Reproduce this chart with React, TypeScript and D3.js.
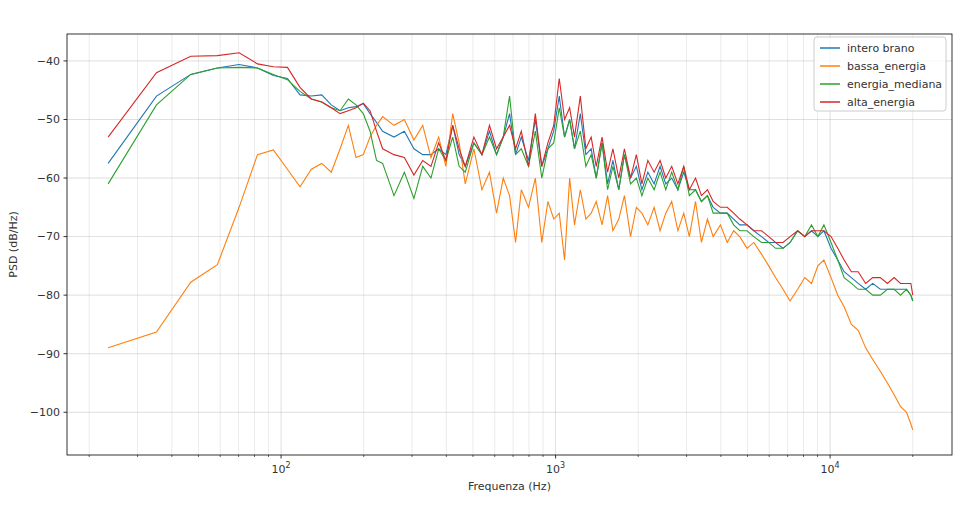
import React, { useRef, useEffect } from 'react';
import * as d3 from 'd3';

// FFT bin index (df = 48000 / 4096 Hz)
const binIndex = [2,3,4,5,6,7,8,9,10,11,12,13,14,15,16,17,18,19,20,22,24,26,28,30,32,34,36,38,40,43,46,49,52,55,58,61,64,68,72,76,80,84,88,92,96,100,105,110,115,120,126,132,138,145,152,160,168,176,185,195,205,215,226,238,250,262,276,290,305,320,340,360,380,400,425,450,480,510,540,575,610,650,690,730,770,810,860,910,960,1020,1080,1150,1220,1300,1380,1460,1540,1620,1680,1707];
const df = 48000 / 4096;

const interoBrano = [-57.5,-46,-42.3,-41.2,-40.6,-41.2,-42.5,-43,-45.8,-46,-45.8,-47.5,-48.5,-48,-47.8,-47.3,-49,-50.5,-52,-53,-52,-55,-56,-56,-55,-56,-51,-56,-58,-54,-56,-52,-56,-53,-49,-56,-53,-57,-50,-58,-55,-52,-46,-53,-50,-55,-49,-56,-55,-60,-54,-61,-57,-62,-56,-60,-58,-62,-59,-61,-58,-61,-60,-62,-59,-62,-62,-64,-63,-65,-66,-66,-67,-68,-68,-69,-70,-71,-71,-72,-71,-69,-70,-69,-70,-69,-72,-74,-76,-77,-78,-79,-78,-79,-79,-79,-79,-79,-80,-81];
const bassaEnergia = [-89,-86.3,-77.8,-74.8,-65,-56,-55.2,-58.5,-61.5,-58.5,-57.5,-59,-55,-51,-56.5,-56,-53,-51,-49.5,-51,-50,-53.5,-51,-56.5,-53,-58,-49,-54,-61,-55,-62,-59,-66,-60,-63,-71,-62,-65,-60,-71,-64,-67,-66,-74,-60,-68,-62,-67,-66,-64,-68,-63,-69,-67,-63,-70,-65,-66,-68,-65,-69,-66,-64,-69,-66,-70,-64,-71,-67,-70,-68,-71,-69,-70,-72,-71,-73,-75,-77,-79,-81,-79,-77,-78,-75,-74,-77,-80,-82,-85,-86,-89,-91,-93,-95,-97,-99,-100,-102,-103];
const energiaMediana = [-61,-47.5,-42.3,-41.2,-41.1,-41.2,-42.3,-43.2,-45.2,-46.5,-47,-48,-48.5,-46.5,-47.5,-49,-52,-57,-57.5,-63,-59,-63.5,-58,-60,-55,-57,-53,-58,-59,-54,-56,-53,-56,-53,-46,-56,-55,-58,-52,-60,-55,-54,-48,-53,-50,-55,-52,-58,-56,-60,-54,-62,-58,-62,-56,-61,-60,-63,-60,-62,-59,-62,-59,-62,-58,-63,-62,-64,-63,-66,-66,-66,-68,-69,-69,-70,-71,-71,-72,-72,-71,-69,-70,-68,-70,-68,-71,-74,-77,-78,-79,-79,-80,-80,-79,-79,-80,-79,-80,-81];
const altaEnergia = [-53,-42,-39.2,-39.1,-38.6,-40.5,-41,-41.1,-44.5,-46.5,-47,-48,-49,-48.5,-48,-47.2,-48.5,-52,-55,-56,-56.5,-59.5,-57,-58,-54,-57,-51,-55,-58,-53,-56,-51,-55,-53,-51,-55,-52,-58,-49,-58,-54,-51,-43,-50,-48,-53,-46,-55,-53,-58,-53,-59,-55,-60,-55,-60,-56,-61,-57,-59,-57,-60,-58,-61,-58,-62,-60,-63,-62,-64,-65,-65,-66,-67,-68,-69,-69,-70,-71,-71,-70,-69,-70,-69,-69,-69,-70,-72,-74,-76,-76,-78,-77,-77,-78,-77,-78,-78,-78,-80];

const seriesNames = ['intero brano', 'bassa_energia', 'energia_mediana', 'alta_energia'];
const seriesColors = ['#1f77b4', '#ff7f0e', '#2ca02c', '#d62728'];
const yTicks = [-100, -90, -80, -70, -60, -50, -40];
const xMajor = [100, 1000, 10000];

export default function App() {
  const svgRef = useRef<SVGSVGElement>(null);

  useEffect(() => {
    const svg = d3.select(svgRef.current);
    svg.selectAll('*').remove();
    const margin = { top: 34, right: 16, bottom: 73, left: 67 };
    const width = 968, height = 528;
    const iw = width - margin.left - margin.right;
    const ih = height - margin.top - margin.bottom;
    const font = 'DejaVu Sans, sans-serif';

    const x = d3.scaleLog().domain([16.6, 27800]).range([0, iw]);
    const y = d3.scaleLinear().domain([-107.3, -35.4]).range([ih, 0]);
    const g = svg.append('g').attr('transform', `translate(${margin.left},${margin.top})`);

    // minor ticks
    const minor: number[] = [];
    [10, 100, 1000, 10000].forEach((d) => {
      for (let m = 2; m <= 9; m++) if (d * m > 16.6 && d * m < 27800) minor.push(d * m);
    });

    // grid
    minor.forEach((v) => g.append('line').attr('x1', x(v)).attr('x2', x(v)).attr('y1', 0).attr('y2', ih).attr('stroke', '#b0b0b0').attr('stroke-width', 0.8).attr('opacity', 0.3));
    xMajor.forEach((v) => g.append('line').attr('x1', x(v)).attr('x2', x(v)).attr('y1', 0).attr('y2', ih).attr('stroke', '#b0b0b0').attr('stroke-width', 0.8).attr('opacity', 0.5));
    yTicks.forEach((v) => g.append('line').attr('x1', 0).attr('x2', iw).attr('y1', y(v)).attr('y2', y(v)).attr('stroke', '#b0b0b0').attr('stroke-width', 0.8).attr('opacity', 0.5));

    const freqs = binIndex.map((k) => k * df);
    const allSeries = [interoBrano, bassaEnergia, energiaMediana, altaEnergia];
    const line = d3.line<number>().x((_, i) => x(freqs[i])).y((d) => y(d));
    allSeries.forEach((s, i) => {
      g.append('path').datum(s).attr('fill', 'none').attr('stroke', seriesColors[i]).attr('stroke-width', 1.1).attr('d', line);
    });

    // frame
    g.append('rect').attr('width', iw).attr('height', ih).attr('fill', 'none').attr('stroke', '#000').attr('stroke-width', 0.8);

    // x ticks
    minor.forEach((v) => g.append('line').attr('x1', x(v)).attr('x2', x(v)).attr('y1', ih).attr('y2', ih + 2).attr('stroke', '#000').attr('stroke-width', 0.6));
    xMajor.forEach((v) => {
      g.append('line').attr('x1', x(v)).attr('x2', x(v)).attr('y1', ih).attr('y2', ih + 3.5).attr('stroke', '#000').attr('stroke-width', 0.8);
      const t = g.append('text').attr('x', x(v)).attr('y', ih + 18).attr('text-anchor', 'middle').attr('font-family', font).attr('font-size', 11).attr('fill', '#333');
      t.append('tspan').text('10');
      t.append('tspan').attr('dy', -5).attr('font-size', 8).text(String(Math.round(Math.log10(v))));
    });
    yTicks.forEach((v) => {
      g.append('line').attr('x1', -3.5).attr('x2', 0).attr('y1', y(v)).attr('y2', y(v)).attr('stroke', '#000').attr('stroke-width', 0.8);
      g.append('text').attr('x', -7).attr('y', y(v)).attr('dy', '0.35em').attr('text-anchor', 'end').attr('font-family', font).attr('font-size', 11).attr('fill', '#333').text(`\u2212${Math.abs(v)}`);
    });

    g.append('text').attr('x', iw / 2).attr('y', ih + 35).attr('text-anchor', 'middle').attr('font-family', font).attr('font-size', 11).attr('fill', '#333').text('Frequenza (Hz)');
    g.append('text').attr('transform', 'rotate(-90)').attr('x', -ih / 2).attr('y', -50).attr('text-anchor', 'middle').attr('font-family', font).attr('font-size', 11).attr('fill', '#333').text('PSD (dB/Hz)');

    // legend
    const lg = g.append('g').attr('transform', `translate(${iw - 138},3)`);
    lg.append('rect').attr('width', 132).attr('height', 74).attr('rx', 3).attr('fill', '#fff').attr('fill-opacity', 0.8).attr('stroke', '#ccc');
    seriesNames.forEach((n, i) => {
      const yy = 11 + i * 18;
      lg.append('line').attr('x1', 6).attr('x2', 26).attr('y1', yy).attr('y2', yy).attr('stroke', seriesColors[i]).attr('stroke-width', 1.5);
      lg.append('text').attr('x', 33).attr('y', yy).attr('dy', '0.35em').attr('font-family', font).attr('font-size', 11).attr('fill', '#333').text(n);
    });
  }, []);

  return <svg ref={svgRef} width={968} height={528} style={{ position: 'absolute', left: 0, top: 0 }} />;
}
